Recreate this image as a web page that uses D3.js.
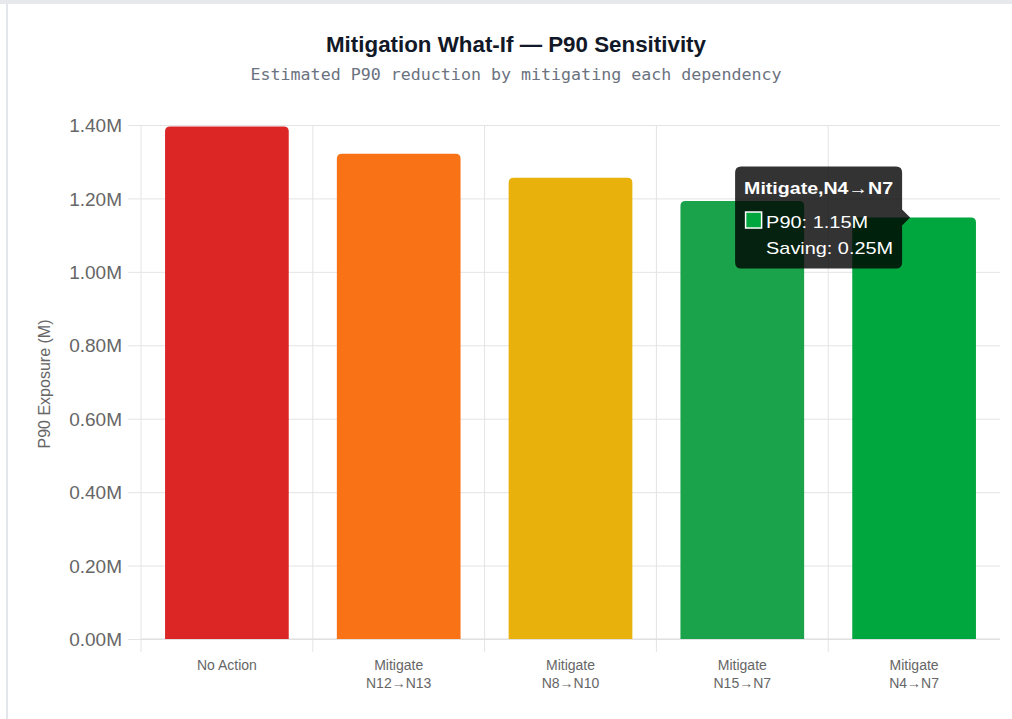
<!DOCTYPE html>
<html>
<head>
<meta charset="utf-8">
<script src="https://cdn.jsdelivr.net/npm/d3@7"></script>
<style>
  html, body { margin: 0; padding: 0; background: #fff; }
  svg { display: block; }
</style>
</head>
<body>
<svg id="chart" width="1012" height="719"></svg>
<script>
// Scenario labels (two lines each) and estimated P90 exposure in millions
const categories = [
  ["No Action"],
  ["Mitigate", "N12\u2192N13"],
  ["Mitigate", "N8\u2192N10"],
  ["Mitigate", "N15\u2192N7"],
  ["Mitigate", "N4\u2192N7"]
];
const p90Values = [1.396, 1.322, 1.256, 1.193, 1.148];
const barColors = ["#dc2626", "#f97316", "#e8b10b", "#1ba34b", "#00a63e"];
const yTicks = [0, 0.2, 0.4, 0.6, 0.8, 1.0, 1.2, 1.4];
const hoveredIndex = 4;

const svg = d3.select("#chart");
const W = 1012, H = 719;
const plot = { left: 141, right: 1000, top: 125, bottom: 639 };

// page frame
svg.append("rect").attr("x", 0).attr("y", 0).attr("width", W).attr("height", 4).attr("fill", "#e6e8ec");
svg.append("rect").attr("x", 6).attr("y", 4).attr("width", 2).attr("height", H - 4).attr("fill", "#e3e6ea");

// titles
svg.append("text")
  .attr("x", 516).attr("y", 52)
  .attr("text-anchor", "middle")
  .attr("font-family", "'Liberation Sans Narrow', 'Liberation Sans', Arial, sans-serif")
  .attr("font-weight", "bold").attr("font-size", 22)
  .attr("fill", "#111827")
  .attr("textLength", 380).attr("lengthAdjust", "spacingAndGlyphs")
  .text("Mitigation What-If \u2014 P90 Sensitivity");

svg.append("text")
  .attr("x", 516).attr("y", 80)
  .attr("text-anchor", "middle")
  .attr("font-family", "'DejaVu Sans Mono', 'Liberation Mono', monospace")
  .attr("font-size", 15)
  .attr("fill", "#6b7280")
  .attr("textLength", 531).attr("lengthAdjust", "spacingAndGlyphs")
  .text("Estimated P90 reduction by mitigating each dependency");

// scales
const x = d3.scaleBand()
  .domain(d3.range(categories.length))
  .range([plot.left, plot.right])
  .paddingInner(0).paddingOuter(0);
const barW = x.bandwidth() * 0.72;

const y = d3.scaleLinear().domain([0, 1.4]).range([plot.bottom, plot.top]);

const grid = "#e4e4e4";
const font = "'Liberation Sans', Arial, Helvetica, sans-serif";

// horizontal grid + y axis
const yAxis = d3.axisLeft(y)
  .tickValues(yTicks)
  .tickSize(-(plot.right - plot.left))
  .tickPadding(0)
  .tickFormat(d => d.toFixed(2) + "M");
const gy = svg.append("g").attr("transform", `translate(${plot.left},0)`).call(yAxis);
gy.select(".domain").remove();
gy.selectAll(".tick line").attr("stroke", grid).attr("x1", -13);
gy.selectAll(".tick text")
  .attr("x", -19).attr("dy", "0.35em")
  .attr("font-family", font).attr("font-size", 19).attr("fill", "#666");

// vertical grid lines at category boundaries
const boundaries = d3.range(categories.length).map(i => x(i));
svg.append("g").selectAll("line").data(boundaries).join("line")
  .attr("x1", d => d).attr("x2", d => d)
  .attr("y1", plot.top).attr("y2", plot.bottom + 13)
  .attr("stroke", grid);

// x axis baseline
svg.append("line")
  .attr("x1", plot.left).attr("x2", plot.right)
  .attr("y1", plot.bottom).attr("y2", plot.bottom)
  .attr("stroke", "#dcdcdc");

// x labels
const xl = svg.append("g").selectAll("text").data(categories).join("text")
  .attr("x", (d, i) => x(i) + x.bandwidth() / 2)
  .attr("y", 670)
  .attr("text-anchor", "middle")
  .attr("font-family", font).attr("font-size", 14).attr("fill", "#666");
xl.selectAll("tspan").data(d => d).join("tspan")
  .attr("x", function () { return d3.select(this.parentNode).attr("x"); })
  .attr("dy", (d, j) => j === 0 ? 0 : 18)
  .text(d => d);

// y axis title
svg.append("text")
  .attr("transform", `translate(50,384) rotate(-90)`)
  .attr("text-anchor", "middle")
  .attr("font-family", font).attr("font-size", 16).attr("fill", "#666")
  .text("P90 Exposure (M)");

// bars with rounded top corners
function barPath(x0, y0, w, h, r) {
  r = Math.min(r, w / 2, h);
  return `M${x0},${y0 + h}V${y0 + r}Q${x0},${y0} ${x0 + r},${y0}H${x0 + w - r}Q${x0 + w},${y0} ${x0 + w},${y0 + r}V${y0 + h}Z`;
}
svg.append("g").selectAll("path").data(p90Values).join("path")
  .attr("d", (v, i) => {
    const x0 = x(i) + (x.bandwidth() - barW) / 2;
    return barPath(x0, y(v), barW, plot.bottom - y(v), 5);
  })
  .attr("fill", (v, i) => barColors[i]);

// tooltip for the hovered scenario
const hv = p90Values[hoveredIndex];
const saving = p90Values[0] - hv;
const tipX = x(hoveredIndex) + x.bandwidth() / 2 - 4;
const tipY = y(hv);
const boxW = 167, boxH = 102, caret = 8;
const bx = tipX - caret - boxW, by = tipY - 51;
const tt = svg.append("g");
tt.append("path")
  .attr("d", () => {
    const r = 6, x0 = bx, y0 = by, x1 = bx + boxW, y1 = by + boxH;
    return `M${x0 + r},${y0}H${x1 - r}Q${x1},${y0} ${x1},${y0 + r}` +
      `V${tipY - caret}L${tipX},${tipY}L${x1},${tipY + caret}` +
      `V${y1 - r}Q${x1},${y1} ${x1 - r},${y1}H${x0 + r}Q${x0},${y1} ${x0},${y1 - r}` +
      `V${y0 + r}Q${x0},${y0} ${x0 + r},${y0}Z`;
  })
  .attr("fill", "rgba(0,0,0,0.8)");
tt.append("text")
  .attr("x", bx + 9).attr("y", by + 27)
  .attr("font-family", font).attr("font-weight", "bold").attr("font-size", 17)
  .attr("fill", "#fff")
  .attr("textLength", 149).attr("lengthAdjust", "spacingAndGlyphs")
  .text(categories[hoveredIndex].join(","));
tt.append("rect")
  .attr("x", bx + 10.5).attr("y", by + 45.5).attr("width", 16).attr("height", 16)
  .attr("fill", barColors[hoveredIndex]).attr("stroke", "#fff").attr("stroke-width", 1.5);
tt.append("text")
  .attr("x", bx + 31).attr("y", by + 61)
  .attr("font-family", font).attr("font-size", 17).attr("fill", "#fff")
  .attr("textLength", 102).attr("lengthAdjust", "spacingAndGlyphs")
  .text("P90: " + hv.toFixed(2) + "M");
tt.append("text")
  .attr("x", bx + 31).attr("y", by + 87)
  .attr("font-family", font).attr("font-size", 17).attr("fill", "#fff")
  .attr("textLength", 127).attr("lengthAdjust", "spacingAndGlyphs")
  .text("Saving: " + saving.toFixed(2) + "M");
</script>
</body>
</html>
